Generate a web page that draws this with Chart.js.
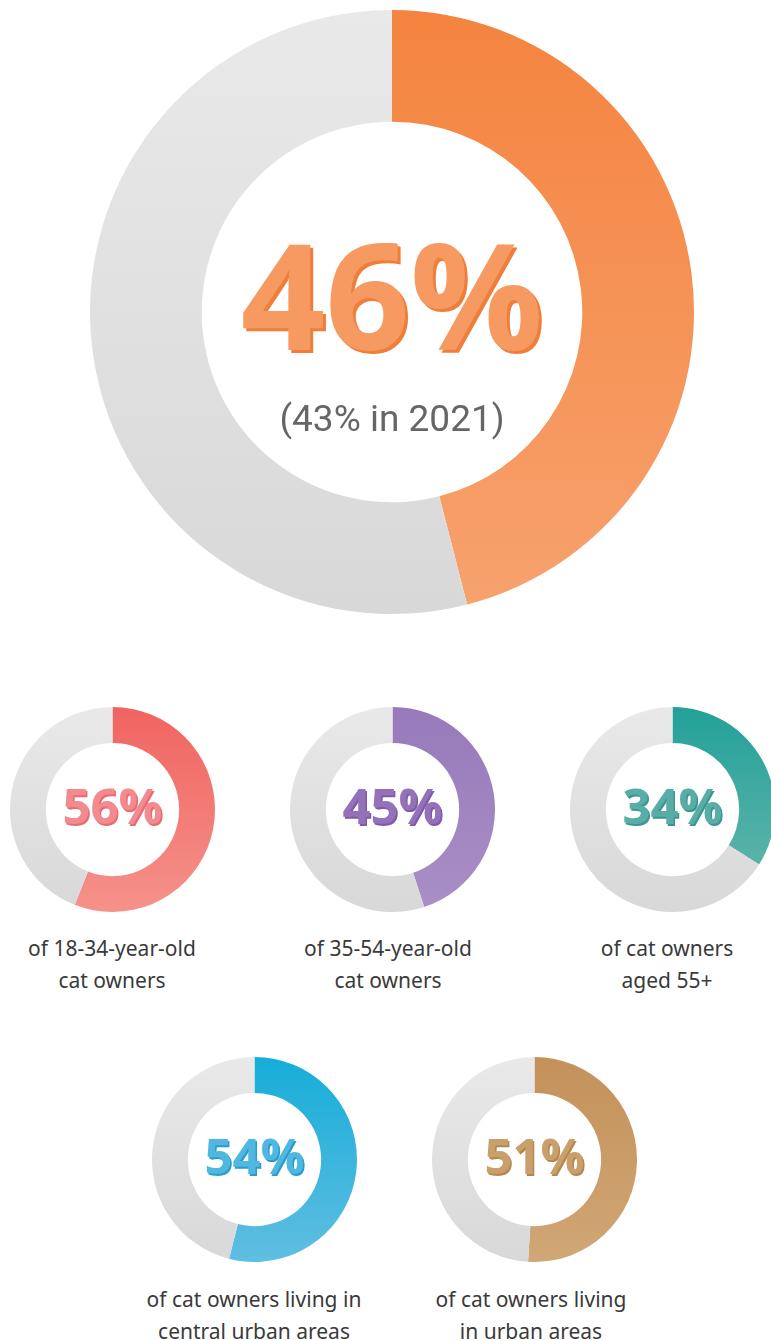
<!DOCTYPE html>
<html>
<head>
<meta charset="utf-8">
<script src="https://cdn.jsdelivr.net/npm/chart.js@4.4.1/dist/chart.umd.min.js"></script>
<style>
  html, body { margin: 0; padding: 0; background: #fff; }
  body { width: 771px; height: 1340px; position: relative; overflow: hidden; font-family: "Noto Sans", "Open Sans", sans-serif; }
  .box { position: absolute; }
  .cap { position: absolute; width: 260px; text-align: center; color: #3a3a3a; font-size: 21px; line-height: 32px; }
</style>
</head>
<body>

<div class="box" style="left:90px; top:10px;"><canvas id="bigChart" width="604" height="604"></canvas></div>

<div class="box" style="left:10px; top:707px;"><canvas id="c1" width="205" height="205"></canvas></div>
<div class="box" style="left:290px; top:707px;"><canvas id="c2" width="205" height="205"></canvas></div>
<div class="box" style="left:570px; top:707px;"><canvas id="c3" width="205" height="205"></canvas></div>
<div class="box" style="left:152px; top:1057px;"><canvas id="c4" width="205" height="205"></canvas></div>
<div class="box" style="left:432px; top:1057px;"><canvas id="c5" width="205" height="205"></canvas></div>

<div class="cap" style="left:-18px; top:932px;">of 18-34-year-old<br>cat owners</div>
<div class="cap" style="left:258px; top:932px;">of 35-54-year-old<br>cat owners</div>
<div class="cap" style="left:537px; top:932px;">of cat owners<br>aged 55+</div>
<div class="cap" style="left:124px; top:1283px;">of cat owners living in<br>central urban areas</div>
<div class="cap" style="left:401px; top:1283px;">of cat owners living<br>in urban areas</div>

<script>
const bigValue = 46;
const bigNote = "(43% in 2021)";

const groupLabels = ["18-34", "35-54", "55+", "central urban", "urban"];
const groupValues = [56, 45, 34, 54, 51];

// [top colour, bottom colour, text colour, text shadow]
const bigPalette = ["#F4843F", "#F7A26E", "#F79A62", "#EE7E3A"];
const groupPalettes = [
    ["#F06461", "#F5928A", "#F28A8F", "#E86A72"],
    ["#977ABA", "#A98FC6", "#9472B9", "#7E5BA8"],
    ["#22A198", "#6CB8AE", "#58AEA7", "#3C9690"],
    ["#16ADD8", "#60BEE1", "#4FB8E1", "#2A9CCB"],
    ["#C4915A", "#D0A776", "#C9A06C", "#B5874F"]
];
const greyTop = "#E9E9EA";
const greyBottom = "#D8D8D8";

function vGrad(chart, c1, c2) {
    const area = chart.chartArea;
    if (!area) return c1;
    const g = chart.ctx.createLinearGradient(0, area.top, 0, area.bottom);
    g.addColorStop(0, c1);
    g.addColorStop(1, c2);
    return g;
}

const centerText = {
    id: "centerText",
    afterDraw(chart) {
        const o = chart.options.plugins.centerText;
        const arc = chart.getDatasetMeta(0).data[0];
        if (!arc) return;
        const ctx = chart.ctx;
        ctx.save();
        ctx.textAlign = "center";
        ctx.textBaseline = "middle";
        ctx.font = o.font;
        const sh = o.shadowOffset;
        ctx.fillStyle = o.shadow;
        ctx.fillText(o.text, arc.x + sh, arc.y + o.dy + sh);
        ctx.fillStyle = o.color;
        ctx.fillText(o.text, arc.x, arc.y + o.dy);
        if (o.sub) {
            ctx.font = o.subFont;
            ctx.fillStyle = "#666666";
            ctx.fillText(o.sub, arc.x, arc.y + o.subDy);
        }
        ctx.restore();
    }
};

function makeDonut(id, value, pal, opts) {
    return new Chart(document.getElementById(id), {
        type: "doughnut",
        data: {
            labels: ["yes", "no"],
            datasets: [{
                data: [value, 100 - value],
                backgroundColor: ctx => ctx.dataIndex === 0
                    ? vGrad(ctx.chart, pal[0], pal[1])
                    : vGrad(ctx.chart, greyTop, greyBottom),
                borderWidth: 0,
                hoverOffset: 0
            }]
        },
        options: {
            responsive: false,
            animation: false,
            cutout: opts.cutout,
            layout: { padding: 0 },
            events: [],
            plugins: {
                legend: { display: false },
                tooltip: { enabled: false },
                centerText: {
                    text: value + "%",
                    font: opts.font,
                    color: pal[2],
                    shadow: pal[3],
                    shadowOffset: opts.shadowOffset,
                    dy: opts.dy,
                    sub: opts.sub,
                    subFont: opts.subFont,
                    subDy: opts.subDy
                }
            }
        },
        plugins: [centerText]
    });
}

makeDonut("bigChart", bigValue, bigPalette, {
    cutout: "63%",
    font: "bold 148px 'Open Sans', sans-serif",
    shadowOffset: 3,
    dy: -4,
    sub: bigNote,
    subFont: "37px Roboto, sans-serif",
    subDy: 110
});

["c1", "c2", "c3", "c4", "c5"].forEach((id, i) => {
    makeDonut(id, groupValues[i], groupPalettes[i], {
        cutout: "65%",
        font: "bold 49px 'Open Sans', sans-serif",
        shadowOffset: 1.5,
        dy: 1
    });
});
</script>
</body>
</html>
